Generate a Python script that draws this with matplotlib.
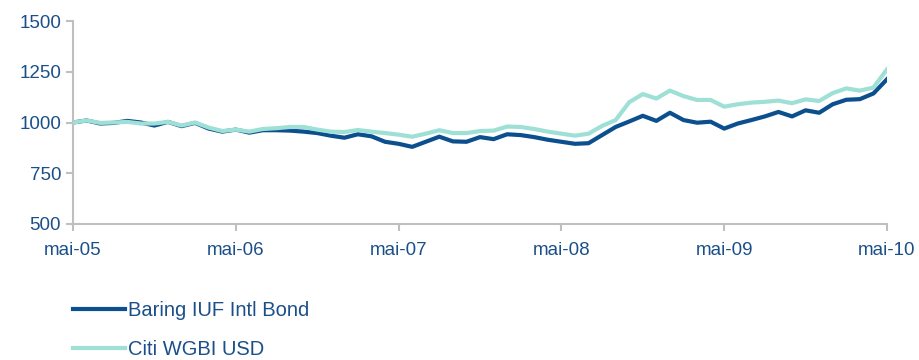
import matplotlib
matplotlib.use('Agg')
import numpy as np
from matplotlib import pyplot as plt

# monthly index values, mai-05 .. mai-10
months = np.arange(61)
tick_pos = [0, 12, 24, 36, 48, 60]
tick_labels = ['mai-05', 'mai-06', 'mai-07', 'mai-08', 'mai-09', 'mai-10']

baring = [1000, 1010, 995, 998, 1008, 1000, 985, 1003, 982, 998,
          970, 955, 965, 950, 962, 962, 960, 955, 948, 935,
          925, 942, 932, 905, 895, 880, 905, 930, 907, 905,
          928, 918, 942, 938, 928, 915, 905, 895, 898, 938,
          978, 1005, 1033, 1008, 1048, 1012, 999, 1004, 970, 995,
          1012, 1030, 1052, 1030, 1060, 1048, 1090, 1112, 1115, 1143,
          1213]
citi = [1000, 1010, 998, 1000, 1003, 995, 995, 1003, 985, 1000,
        975, 958, 965, 955, 968, 972, 978, 978, 965, 955,
        953, 963, 955, 948, 940, 930, 945, 962, 948, 948,
        958, 960, 980, 978, 968, 955, 945, 935, 945, 983,
        1012, 1100, 1140, 1118, 1157, 1130, 1111, 1111, 1078, 1090,
        1098, 1102, 1108, 1095, 1114, 1106, 1145, 1168, 1157, 1172,
        1262]

dark = '#0B4F8F'
light = '#9EE0D6'
txt = '#1A4F8A'
grey = '#BFBFBF'

plt.rcParams['font.family'] = ['Liberation Sans', 'DejaVu Sans']

fig = plt.figure(figsize=(9.2, 3.6), dpi=100)
ax = fig.add_axes([73/920, 1 - 224/360, (887 - 73)/920, (224 - 21)/360])

ax.plot(months, baring, color=dark, lw=3, label='Baring IUF Intl Bond', zorder=2)
ax.plot(months, citi, color=light, lw=3, label='Citi WGBI USD', zorder=3)

ax.set_xlim(0, 60)
ax.set_ylim(500, 1500)
ax.set_yticks([500, 750, 1000, 1250, 1500])
ax.set_xticks(tick_pos)
ax.set_xticklabels(tick_labels)

for s in ['top', 'right']:
    ax.spines[s].set_visible(False)
for s in ['left', 'bottom']:
    ax.spines[s].set_color(grey)
    ax.spines[s].set_linewidth(1.5)
ax.tick_params(axis='both', colors=grey, width=1.5, length=5, labelsize=13.5,
               labelcolor=txt, direction='out')
ax.tick_params(axis='x', pad=8)

leg = fig.legend(loc='upper left',
                 bbox_to_anchor=(73/920, 1 - 301/360), frameon=False,
                 fontsize=14.5, handlelength=2.6, handletextpad=0.15,
                 labelspacing=1.0, borderpad=0, borderaxespad=0)
for t in leg.get_texts():
    t.set_color(txt)

plt.savefig('out.png', dpi=100)
